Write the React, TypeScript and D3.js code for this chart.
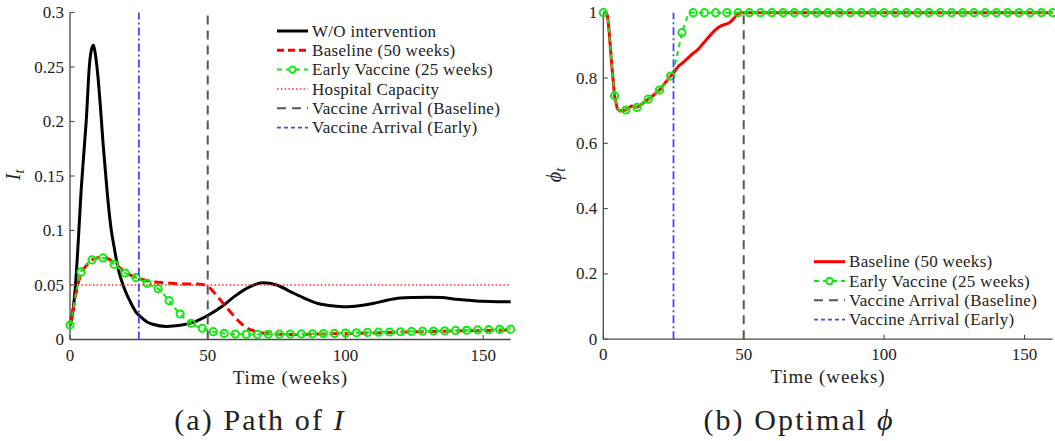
import React from "react";
import * as d3 from "d3";

// ---- data ----
const weeksNoInt = [0, 1, 2, 3, 4, 5, 6, 7, 8, 8.5, 9, 10, 11, 12, 13, 14, 15, 16, 17, 18, 19, 20, 22, 24, 26, 28, 30, 35, 40, 45, 50, 55, 60, 65, 70, 75, 80, 85, 90, 95, 100, 105, 110, 115, 120, 125, 130, 135, 140, 145, 150, 155, 160];
const iNoIntervention = [0.013, 0.025, 0.05, 0.09, 0.135, 0.17, 0.205, 0.25, 0.268, 0.27, 0.265, 0.245, 0.215, 0.18, 0.15, 0.122, 0.1, 0.085, 0.071, 0.06, 0.052, 0.045, 0.034, 0.025, 0.02, 0.016, 0.014, 0.012, 0.013, 0.016, 0.022, 0.03, 0.04, 0.048, 0.052, 0.05, 0.044, 0.038, 0.033, 0.031, 0.03, 0.031, 0.033, 0.036, 0.038, 0.0385, 0.0387, 0.0385, 0.037, 0.036, 0.035, 0.0347, 0.0347];

const weeksBase = [0, 1, 2, 3, 4, 6, 8, 10, 12, 14, 16, 18, 20, 22, 25, 28, 30, 35, 40, 45, 48, 50, 52, 54, 56, 58, 60, 62, 64, 66, 68, 70, 75, 80, 90, 100, 110, 120, 130, 140, 150, 160];
const iBaseline = [0.013, 0.025, 0.04, 0.052, 0.06, 0.068, 0.073, 0.075, 0.0755, 0.074, 0.07, 0.066, 0.062, 0.059, 0.056, 0.054, 0.053, 0.052, 0.051, 0.051, 0.0505, 0.049, 0.044, 0.038, 0.032, 0.026, 0.02, 0.015, 0.011, 0.0085, 0.007, 0.006, 0.005, 0.0046, 0.005, 0.0055, 0.006, 0.0068, 0.0073, 0.0078, 0.0082, 0.0087];

const weeksEarly = [0, 1, 2, 3, 4, 6, 8, 10, 12, 14, 16, 18, 20, 22, 24, 26, 28, 30, 32, 34, 36, 38, 40, 42, 44, 46, 48, 50, 52, 56, 60, 64, 68, 72, 76, 80, 84, 88, 92, 96, 100, 104, 108, 112, 116, 120, 124, 128, 132, 136, 140, 144, 148, 152, 156, 160];
const iEarly = [0.0133, 0.025, 0.04, 0.052, 0.062, 0.069, 0.073, 0.0745, 0.0748, 0.0725, 0.069, 0.065, 0.061, 0.0585, 0.0567, 0.054, 0.0515, 0.049, 0.0466, 0.0415, 0.0356, 0.029, 0.0234, 0.0185, 0.0149, 0.012, 0.0103, 0.0086, 0.0072, 0.0056, 0.005, 0.0047, 0.0047, 0.0048, 0.0049, 0.005, 0.0051, 0.0052, 0.0054, 0.0056, 0.0059, 0.0062, 0.0065, 0.0067, 0.0069, 0.0071, 0.0074, 0.0076, 0.0078, 0.008, 0.0083, 0.0085, 0.0088, 0.009, 0.0093, 0.0095];

const hospitalCapacity = 0.05;
const arrivalBaseline = 50;
const arrivalEarly = 25;

const weeksPhiBase = [0, 1, 1.5, 2, 3, 4, 5, 6, 8, 10, 12, 14, 16, 18, 20, 22, 24, 25, 26, 27, 28, 29, 30, 31, 32, 33, 34, 35, 36, 37, 38, 39, 40, 41, 42, 43, 44, 45, 46, 47, 48, 49, 160];
const phiBaseline = [1, 1, 0.99, 0.95, 0.84, 0.746, 0.705, 0.699, 0.702, 0.714, 0.71, 0.722, 0.735, 0.748, 0.763, 0.785, 0.806, 0.815, 0.828, 0.838, 0.845, 0.852, 0.86, 0.868, 0.876, 0.882, 0.89, 0.9, 0.91, 0.92, 0.93, 0.94, 0.948, 0.955, 0.96, 0.963, 0.966, 0.97, 0.978, 0.988, 0.997, 1, 1];

const weeksPhiEarly = [0, 1, 1.5, 2, 3, 4, 5, 6, 8, 10, 12, 14, 16, 18, 20, 22, 24, 25, 28, 30, 31, 32, 36, 40, 44, 48, 52, 56, 60, 64, 68, 72, 76, 80, 84, 88, 92, 96, 100, 104, 108, 112, 116, 120, 124, 128, 132, 136, 140, 144, 148, 152, 156, 160];
const phiEarly = [1, 1, 0.99, 0.95, 0.84, 0.746, 0.705, 0.699, 0.702, 0.712, 0.71, 0.722, 0.735, 0.748, 0.763, 0.785, 0.806, 0.82, 0.939, 0.99, 1, 1, 1, 1, 1, 1, 1, 1, 1, 1, 1, 1, 1, 1, 1, 1, 1, 1, 1, 1, 1, 1, 1, 1, 1, 1, 1, 1, 1, 1, 1, 1, 1, 1];

const xTicks = [0, 50, 100, 150];
const iTicks = [0, 0.05, 0.1, 0.15, 0.2, 0.25, 0.3];
const phiTicks = [0, 0.2, 0.4, 0.6, 0.8, 1];

const legendI = ["W/O intervention", "Baseline (50 weeks)", "Early Vaccine (25 weeks)", "Hospital Capacity", "Vaccine Arrival (Baseline)", "Vaccine Arrival (Early)"];
const legendPhi = ["Baseline (50 weeks)", "Early Vaccine (25 weeks)", "Vaccine Arrival (Baseline)", "Vaccine Arrival (Early)"];

// ---- styles ----
const SERIF = { fontFamily: "Liberation Serif" };
const GREEN = "#10ea10";
const BLUE = "#4646ff";
const GRAY = "#555";
const RED = "#ff0000";
const AXIS = "#4a4a4a";
const TXT = "#222";

type Sty = { stroke: string; width: number; dash?: string; marker?: boolean };
const styles: Record<string, Sty> = {
  none: { stroke: "#000", width: 3 },
  baseDash: { stroke: RED, width: 3, dash: "9,5" },
  baseSolid: { stroke: RED, width: 3 },
  early: { stroke: GREEN, width: 2, dash: "5,4", marker: true },
  hosp: { stroke: "#ff3535", width: 1.6, dash: "1.6,2.2" },
  arrBase: { stroke: GRAY, width: 2, dash: "9,6" },
  arrEarly: { stroke: BLUE, width: 1.8, dash: "8,3,2,3" },
};

function Axes({ x, y, yTicks }: { x: d3.ScaleLinear<number, number>; y: d3.ScaleLinear<number, number>; yTicks: number[] }) {
  const [y0, y1] = y.domain();
  const [x0, x1] = x.domain();
  return (
    <g>
      <line x1={x(x0)} x2={x(x0)} y1={y(y0)} y2={y(y1)} stroke={AXIS} strokeWidth={1.3} />
      <line x1={x(x0)} x2={x(x1)} y1={y(y0)} y2={y(y0)} stroke={AXIS} strokeWidth={1.3} />
      {yTicks.map((t) => (
        <g key={"y" + t}>
          <line x1={x(x0)} x2={x(x0) + 4.5} y1={y(t)} y2={y(t)} stroke={AXIS} strokeWidth={1.1} />
          <text style={SERIF} x={x(x0) - 6} y={y(t) + 5.5} textAnchor="end" fontSize={17} fill={TXT}>{String(t)}</text>
        </g>
      ))}
      {xTicks.map((t) => (
        <g key={"x" + t}>
          <line x1={x(t)} x2={x(t)} y1={y(y0)} y2={y(y0) - 4.5} stroke={AXIS} strokeWidth={1.1} />
          <text style={SERIF} x={x(t)} y={y(y0) + 21} textAnchor="middle" fontSize={17} fill={TXT}>{String(t)}</text>
        </g>
      ))}
      <text style={SERIF} x={(x(x0) + x(x1)) / 2} y={y(y0) + 44} textAnchor="middle" fontSize={19} letterSpacing={0.9} fill={TXT}>Time (weeks)</text>
    </g>
  );
}

function Series({ x, y, weeks, vals, sty, curve }: any) {
  const pts: [number, number][] = weeks.map((w: number, i: number) => [w, vals[i]]);
  const line = d3.line<[number, number]>().x((d) => x(d[0])).y((d) => y(d[1])).curve(curve || d3.curveMonotoneX);
  return (
    <g>
      <path d={line(pts) || ""} fill="none" stroke={sty.stroke} strokeWidth={sty.width} strokeDasharray={sty.dash} strokeLinejoin="round" />
      {sty.marker && pts.filter((p) => p[0] % 4 === 0).map((p) => (
        <circle key={p[0]} cx={x(p[0])} cy={y(p[1])} r={3.6} fill="none" stroke={sty.stroke} strokeWidth={2} />
      ))}
    </g>
  );
}

function VLine({ x, y, at, sty }: any) {
  const [y0, y1] = y.domain();
  return <line x1={x(at)} x2={x(at)} y1={y(y0)} y2={y(y1)} stroke={sty.stroke} strokeWidth={sty.width} strokeDasharray={sty.dash} />;
}

function Legend({ items, stys, x0, ys }: { items: string[]; stys: Sty[]; x0: number; ys: number[] }) {
  return (
    <g>
      {items.map((label, i) => {
        const s = stys[i];
        let dash = s.dash;
        if (s === styles.arrEarly) dash = "4,3";
        if (s === styles.baseDash) dash = "7,4";
        return (
          <g key={label}>
            <line x1={x0} x2={x0 + 31} y1={ys[i]} y2={ys[i]} stroke={s.stroke} strokeWidth={s.width} strokeDasharray={dash} />
            {s.marker && <circle cx={x0 + 15.5} cy={ys[i]} r={3.2} fill="#fff" stroke={s.stroke} strokeWidth={2} />}
            <text style={SERIF} x={x0 + 35} y={ys[i] + 5.5} fontSize={17} letterSpacing={0.3} fill={TXT}>{label}</text>
          </g>
        );
      })}
    </g>
  );
}

export default function App() {
  const xL = d3.scaleLinear().domain([0, 160]).range([70, 510.7]);
  const yL = d3.scaleLinear().domain([0, 0.3]).range([339.5, 12.5]);
  const xR = d3.scaleLinear().domain([0, 160]).range([603.3, 1052.6]);
  const yR = d3.scaleLinear().domain([0, 1]).range([339.2, 12.7]);

  return (
    <svg width={1055} height={441} style={{ position: "absolute", left: 0, top: 0, background: "#fff" }}>
      {/* (a) path of I */}
      <Axes x={xL} y={yL} yTicks={iTicks} />
      <Series x={xL} y={yL} weeks={weeksNoInt} vals={iNoIntervention} sty={styles.none} />
      <Series x={xL} y={yL} weeks={weeksBase} vals={iBaseline} sty={styles.baseDash} />
      <Series x={xL} y={yL} weeks={weeksEarly} vals={iEarly} sty={styles.early} />
      <line x1={xL(0)} x2={xL(160)} y1={yL(hospitalCapacity)} y2={yL(hospitalCapacity)} stroke={styles.hosp.stroke} strokeWidth={styles.hosp.width} strokeDasharray={styles.hosp.dash} />
      <VLine x={xL} y={yL} at={arrivalBaseline} sty={styles.arrBase} />
      <VLine x={xL} y={yL} at={arrivalEarly} sty={styles.arrEarly} />
      <Legend items={legendI} stys={[styles.none, styles.baseDash, styles.early, styles.hosp, styles.arrBase, styles.arrEarly]} x0={277} ys={[31, 50.3, 69.6, 89, 108.3, 127.6]} />
      <text style={SERIF} transform="translate(20,175) rotate(-90)" textAnchor="middle" fill={TXT}>
        <tspan fontStyle="italic" fontSize={20}>I</tspan>
        <tspan fontStyle="italic" fontSize={14} dy={4}>t</tspan>
      </text>
      <text style={SERIF} x={260} y={430} textAnchor="middle" fontSize={30} letterSpacing={2.1} fill={TXT}>
        (a) Path of <tspan fontStyle="italic">I</tspan>
      </text>

      {/* (b) optimal phi */}
      <Axes x={xR} y={yR} yTicks={phiTicks} />
      <Series x={xR} y={yR} weeks={weeksPhiBase} vals={phiBaseline} sty={styles.baseSolid} curve={d3.curveLinear} />
      <Series x={xR} y={yR} weeks={weeksPhiEarly} vals={phiEarly} sty={styles.early} curve={d3.curveLinear} />
      <VLine x={xR} y={yR} at={arrivalBaseline} sty={styles.arrBase} />
      <VLine x={xR} y={yR} at={arrivalEarly} sty={styles.arrEarly} />
      <Legend items={legendPhi} stys={[styles.baseSolid, styles.early, styles.arrBase, styles.arrEarly]} x0={814} ys={[261.7, 281, 300.3, 319.6]} />
      <text style={SERIF} transform="translate(561,175) rotate(-90)" textAnchor="middle" fill={TXT}>
        <tspan fontStyle="italic" fontSize={20}>ϕ</tspan>
        <tspan fontStyle="italic" fontSize={14} dy={4}>t</tspan>
      </text>
      <text style={SERIF} x={799} y={430} textAnchor="middle" fontSize={30} letterSpacing={2.1} fill={TXT}>
        (b) Optimal <tspan fontStyle="italic">ϕ</tspan>
      </text>
    </svg>
  );
}
